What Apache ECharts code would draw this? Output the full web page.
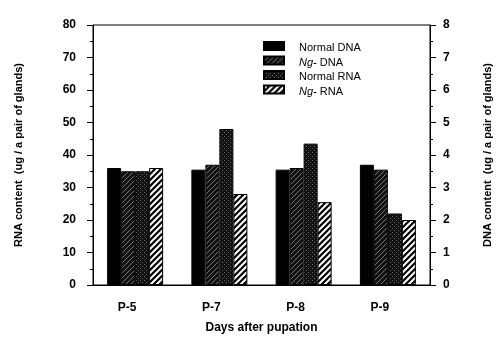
<!DOCTYPE html>
<html>
<head>
<meta charset="utf-8">
<script src="https://cdn.jsdelivr.net/npm/echarts@6/dist/echarts.min.js"></script>
<style>
html, body { margin: 0; padding: 0; background: #fff; }
#chart { width: 504px; height: 339px; }
</style>
</head>
<body>
<div id="chart"></div>
<script>
var days = ['P-5', 'P-7', 'P-8', 'P-9'];
var normalDNA = [3.6, 3.55, 3.55, 3.7];
var ngDNA = [3.5, 3.7, 3.6, 3.55];
var normalRNA = [35, 48, 43.5, 22];
var ngRNA = [36, 28, 25.5, 20];

// little canvas textures for the bar fills
function pattern(bg, draw, size) {
    var c = document.createElement('canvas');
    c.width = size;
    c.height = size;
    var ctx = c.getContext('2d');
    ctx.fillStyle = bg;
    ctx.fillRect(0, 0, size, size);
    draw(ctx, size);
    return { image: c, repeat: 'repeat' };
}
function diag(color, lw) {
    return function (ctx, s) {
        ctx.strokeStyle = color;
        ctx.lineWidth = lw;
        ctx.beginPath();
        ctx.moveTo(-1, s + 1); ctx.lineTo(s + 1, -1);
        ctx.moveTo(-1, 1); ctx.lineTo(1, -1);
        ctx.moveTo(s - 1, s + 1); ctx.lineTo(s + 1, s - 1);
        ctx.stroke();
    };
}
var fillNgDNA = pattern('#111111', diag('#8f8f8f', 0.8), 5);
var fillNormRNA = pattern('#111111', function (ctx) {
    ctx.fillStyle = '#6a6a6a';
    ctx.fillRect(0, 0, 1, 1);
    ctx.fillRect(2, 2, 1, 1);
}, 4);
var fillNgRNA = pattern('#ffffff', diag('#000000', 2.2), 6);

var bold = { fontFamily: 'Liberation Sans, Arial', fontWeight: 'bold', fontSize: 12, color: '#000' };

var myChart = echarts.init(document.getElementById('chart'), null, { renderer: 'canvas' });

var option = {
    animation: false,
    backgroundColor: '#fff',
    grid: {
        left: 93, right: 74, top: 25, bottom: 54,
        show: true, borderColor: '#000', borderWidth: 1
    },
    legend: {
        orient: 'vertical',
        left: 258,
        top: 36,
        itemWidth: 20,
        itemHeight: 8,
        itemGap: 2,
        icon: 'rect',
        textStyle: {
            fontFamily: 'Liberation Sans, Arial',
            fontSize: 11,
            color: '#000',
            padding: [4, 0, 0, 10],
            rich: {
                i: { fontStyle: 'italic', fontSize: 11, fontFamily: 'Liberation Sans, Arial', color: '#000' }
            }
        },
        formatter: function (name) {
            return name.replace('Ng-', '{i|Ng-}');
        },
        data: ['Normal DNA', 'Ng- DNA', 'Normal RNA', 'Ng- RNA']
    },
    xAxis: {
        type: 'category',
        data: days,
        name: 'Days after pupation',
        nameLocation: 'middle',
        nameGap: 37,
        nameTextStyle: bold,
        axisLine: { lineStyle: { color: '#000', width: 1 } },
        axisTick: { length: 3, lineStyle: { color: '#000' } },
        axisLabel: Object.assign({ margin: 17, padding: [0, 16, 0, 0] }, bold)
    },
    yAxis: [
        {
            type: 'value',
            min: 0, max: 80, interval: 10,
            name: 'RNA content  (ug / a pair of glands)',
            nameLocation: 'middle',
            nameRotate: 90,
            nameGap: 69,
            nameTextStyle: Object.assign({}, bold, { fontSize: 11 }),
            axisLine: { show: true, lineStyle: { color: '#000', width: 1 } },
            axisTick: { show: true, length: 6, lineStyle: { color: '#000' } },
            minorTick: { show: true, splitNumber: 2, length: 3, lineStyle: { color: '#000' } },
            splitLine: { show: false },
            axisLabel: Object.assign({ margin: 17 }, bold)
        },
        {
            type: 'value',
            min: 0, max: 8, interval: 1,
            position: 'right',
            name: 'DNA content  (ug / a pair of glands)',
            nameLocation: 'middle',
            nameRotate: 90,
            nameGap: 52,
            nameTextStyle: Object.assign({}, bold, { fontSize: 11 }),
            axisLine: { show: true, lineStyle: { color: '#000', width: 1 } },
            axisTick: { show: true, length: 6, lineStyle: { color: '#000' } },
            minorTick: { show: true, splitNumber: 2, length: 3, lineStyle: { color: '#000' } },
            splitLine: { show: false },
            axisLabel: Object.assign({ margin: 13 }, bold)
        }
    ],
    series: [
        {
            name: 'Normal DNA', type: 'bar', yAxisIndex: 1, data: normalDNA,
            barWidth: 14, barGap: '0%',
            itemStyle: { color: '#000', borderColor: '#000', borderWidth: 1 }
        },
        {
            name: 'Ng- DNA', type: 'bar', yAxisIndex: 1, data: ngDNA,
            barWidth: 14, barGap: '0%',
            itemStyle: { color: fillNgDNA, borderColor: '#000', borderWidth: 1 }
        },
        {
            name: 'Normal RNA', type: 'bar', yAxisIndex: 0, data: normalRNA,
            barWidth: 14, barGap: '0%',
            itemStyle: { color: fillNormRNA, borderColor: '#000', borderWidth: 1 }
        },
        {
            name: 'Ng- RNA', type: 'bar', yAxisIndex: 0, data: ngRNA,
            barWidth: 14, barGap: '0%',
            itemStyle: { color: fillNgRNA, borderColor: '#000', borderWidth: 1 }
        }
    ]
};

myChart.setOption(option);
window.addEventListener('resize', myChart.resize);
</script>
</body>
</html>
